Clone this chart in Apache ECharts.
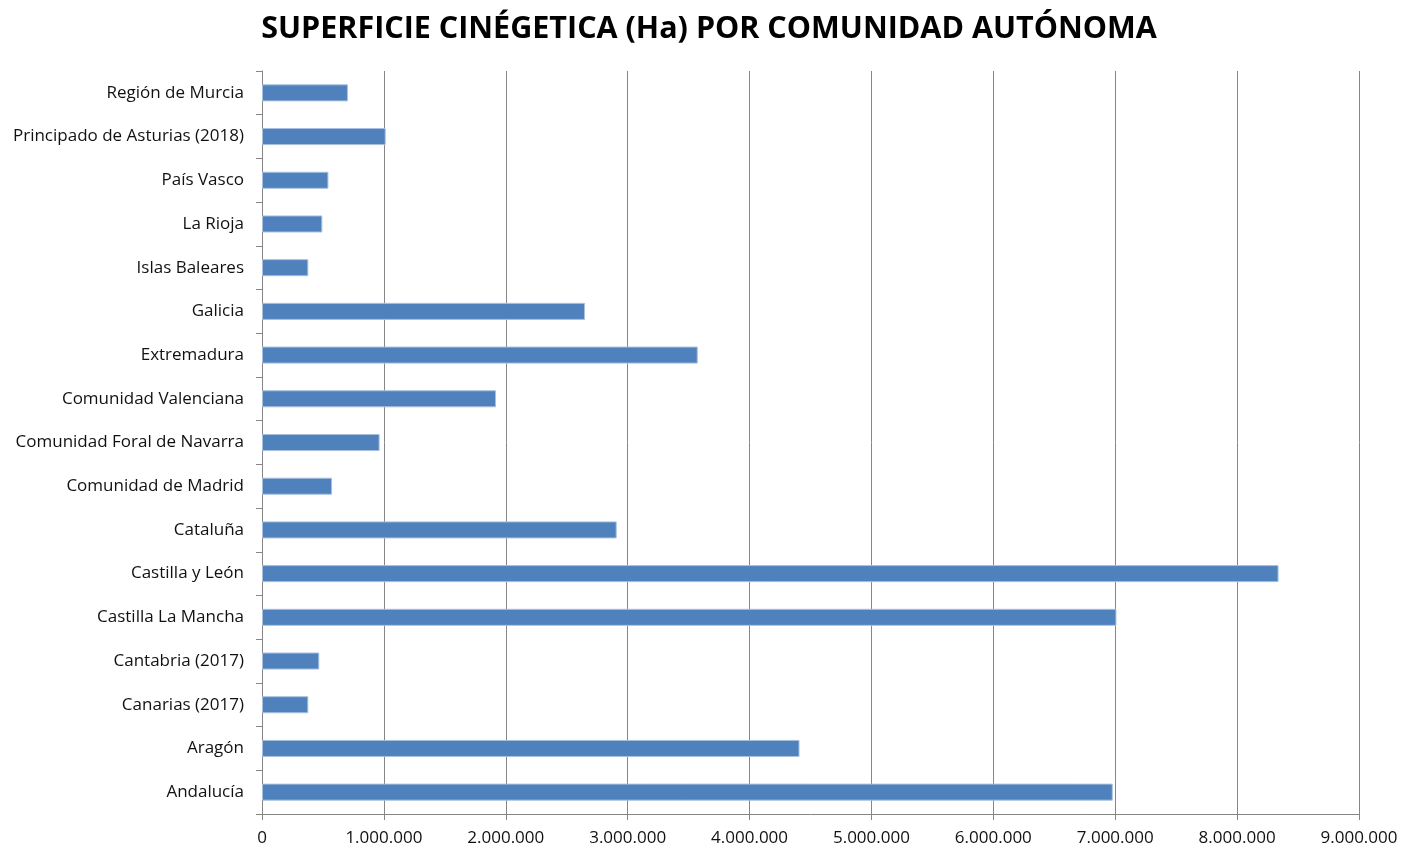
<!DOCTYPE html>
<html><head><meta charset="utf-8">
<script src="https://cdn.jsdelivr.net/npm/echarts@6/dist/echarts.min.js"></script>
<style>html,body{margin:0;padding:0;background:#fff}#c{width:1418px;height:851px}</style>
</head><body><div id="c"></div>
<script>
const categories = ["Andalucía","Aragón","Canarias (2017)","Cantabria (2017)","Castilla La Mancha","Castilla y León","Cataluña","Comunidad de Madrid","Comunidad Foral de Navarra","Comunidad Valenciana","Extremadura","Galicia","Islas Baleares","La Rioja","País Vasco","Principado de Asturias (2018)","Región de Murcia"];
const values = [6980000,4410000,380000,470000,7010000,8340000,2910000,575000,965000,1920000,3575000,2650000,380000,495000,545000,1015000,705000];
const title = "SUPERFICIE CINÉGETICA (Ha) POR COMUNIDAD AUTÓNOMA";

const chart = echarts.init(document.getElementById('c'));
const fmt = v => String(v).replace(/\B(?=(\d{3})+(?!\d))/g, '.');
chart.setOption({
  animation: false,
  title: {text: title, left: 'center', top: 9,
    textStyle: {fontFamily: 'Open Sans', fontWeight: 'bold', fontSize: 30.5, color: '#000'}},
  grid: {left: 262, right: 59, top: 71, bottom: 37, containLabel: false},
  xAxis: {type: 'value', min: 0, max: 9000000, interval: 1000000,
    axisLine: {show: true, lineStyle: {color: '#868686'}},
    axisTick: {show: true, length: 6, lineStyle: {color: '#868686'}},
    axisLabel: {formatter: fmt, fontFamily: 'Open Sans', fontSize: 17, color: '#111', margin: 16},
    splitLine: {show: true, lineStyle: {color: '#868686', width: 1}}},
  yAxis: {type: 'category', data: categories,
    axisLine: {show: true, lineStyle: {color: '#868686'}},
    axisTick: {show: true, length: 6, alignWithLabel: false, lineStyle: {color: '#868686'}},
    axisLabel: {fontFamily: 'Open Sans', fontSize: 17, color: '#111', margin: 18}},
  series: [{type: 'bar', data: values, barWidth: '39%',
    itemStyle: {color: '#4F81BD', borderColor: '#A9C1DF', borderWidth: 1}}]
});
</script></body></html>
